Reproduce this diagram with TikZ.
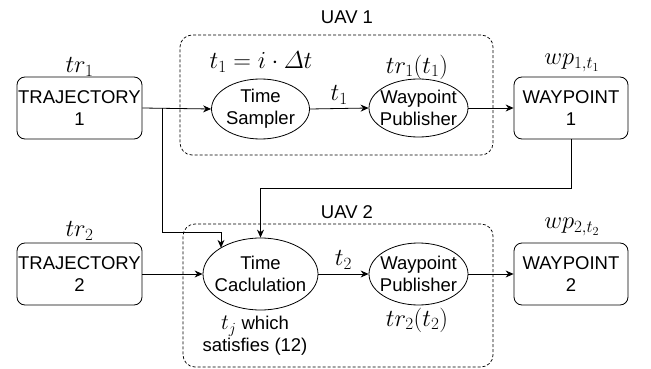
\RequirePackage{fix-cm}
\documentclass[tikz,border=0pt]{standalone}
\usepackage{amsmath}
\usepackage[no-math]{fontspec}
\setmainfont{Liberation Sans}
\usetikzlibrary{arrows.meta,shapes.geometric}
\begin{document}
\begin{tikzpicture}[x=1pt,y=-1pt,
  every node/.style={font=\fontsize{18.5}{22}\selectfont, inner sep=0pt},
  ml/.style={font=\fontsize{24.5}{28}\selectfont},
  box/.style={draw, rounded corners=8pt, minimum width=125pt, minimum height=62pt, align=center},
  wbox/.style={box, minimum width=114pt},
  ell/.style={draw, ellipse, minimum width=98pt, minimum height=60pt, inner sep=-10pt, align=center},
  group/.style={draw, dash pattern=on 3pt off 2pt, rounded corners=12pt, line width=0.7pt},
  arr/.style={-{Stealth[length=8pt,width=7pt]}},
  line width=0.8pt]
\useasboundingbox (0,0) rectangle (651,369);
% groups
\node[group, minimum width=313pt, minimum height=120pt] (uav1) at (336.5,95) {};
\node (uav1l) at (347,17) {UAV 1};
\node[group, minimum width=310pt, minimum height=143pt] (uav2) at (338,295.5) {};
\node (uav2l) at (347,212) {UAV 2};
% row 1
\node[box] (traj1) at (79.5,108) {TRAJECTORY\\1};
\node[ml] (tr1) at (79.5,67) {$tr_1$};
\node[ell] (ts) at (260.5,109) {Time\\Sampler};
\node[ml] (teq) at (261,62) {$t_1=i\cdot\varDelta t$};
\node[ell, minimum width=99pt, minimum height=58pt] (pub1) at (418.5,108) {Waypoint\\Publisher};
\node[ml] (tr1t) at (417,67) {$tr_1(t_1)$};
\node[wbox] (wp1) at (571,108) {WAYPOINT\\1};
\node[ml] (wp1l) at (572,63) {$wp_{1,t_1}$};
% row 2
\node[box] (traj2) at (79.5,274) {TRAJECTORY\\2};
\node[ml] (tr2) at (79.5,231) {$tr_2$};
\node[ell, minimum width=115pt, minimum height=72pt] (tc) at (260.5,274) {Time\\Caclulation};
\node[align=center] (tj) at (255,336) {{\fontsize{22}{22}\selectfont$t_j$} which\\satisfies (12)};
\node[ell, minimum width=99pt, minimum height=62pt] (pub2) at (418.5,274) {Waypoint\\Publisher};
\node[ml] (tr2t) at (417,320) {$tr_2(t_2)$};
\node[wbox] (wp2) at (571,274) {WAYPOINT\\2};
\node[ml] (wp2l) at (572,227) {$wp_{2,t_2}$};
% connectors
\draw[arr] (traj1.east) -- (ts.west);
\draw[arr] (ts.east) -- node[ml, above=4pt] (t1l) {$t_1$} (pub1.west);
\draw[arr] (pub1.east) -- (wp1.west);
\coordinate (b1) at (162,108);
\coordinate (k1) at (221,232);
\draw[arr] (b1) |- (k1) -- (k1 |- tc.147);
\coordinate (k2) at (571,188);
\draw[arr] (wp1.south) -- (k2) -| (tc.north);
\draw[arr] (traj2.east) -- (tc.west);
\draw[arr] (tc.east) -- node[ml, above=4pt] (t2l) {$t_2$} (pub2.west);
\draw[arr] (pub2.east) -- (wp2.west);
\end{tikzpicture}
\end{document}
